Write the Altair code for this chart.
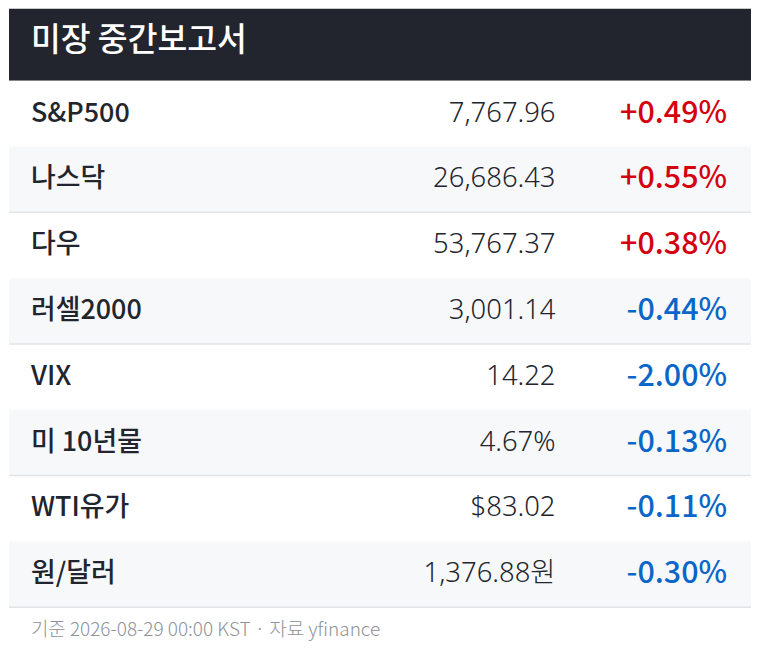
import altair as alt
import pandas as pd

title_text = ["미장 중간보고서"]
names = ["S&P500", "나스닥", "다우", "러셀2000", "VIX", "미 10년물", "WTI유가", "원/달러"]
values = ["7,767.96", "26,686.43", "53,767.37", "3,001.14", "14.22", "4.67%", "$83.02", "1,376.88원"]
changes = [0.49, 0.55, 0.38, -0.44, -2.00, -0.13, -0.11, -0.30]
footer_text = ["기준 2026-08-29 00:00 KST · 자료 yfinance"]

W, H = 744, 636
KR = "Noto Sans CJK KR"
KR_MED = "Noto Sans CJK KR Medium, Noto Sans CJK KR"

df = pd.DataFrame({
    "idx": list(range(len(names))),
    "name": names,
    "value": values,
    "change": changes,
})
df["label"] = df["change"].map(lambda v: f"{v:+.2f}%")
df["alt"] = df["idx"] % 2

yscale = alt.Scale(range=[72, 600], paddingInner=0, paddingOuter=0)
Y = alt.Y("idx:O", scale=yscale, axis=None)

base = alt.Chart(df)

rows = base.mark_rect().encode(
    x=alt.value(0), x2=alt.value(W), y=Y,
    fill=alt.condition("datum.alt == 1", alt.value("#f7f8fa"), alt.value("#ffffff")),
)
seps = base.transform_filter("datum.alt == 1").mark_rule(stroke="#e2e4e8", strokeWidth=1.5).encode(
    x=alt.value(0), x2=alt.value(W),
    y=alt.Y("idx:O", scale=yscale, axis=None, bandPosition=1),
)
name_t = base.mark_text(align="left", baseline="middle", font=KR_MED, fontSize=27,
                        color="#22252d").encode(
    x=alt.value(22), y=Y, text="name:N")
val_t = base.mark_text(align="right", baseline="middle", font="Noto Sans, Noto Sans CJK KR", fontSize=27.5,
                       fontWeight=300, color="#22252d").encode(
    x=alt.value(548), y=Y, text="value:N")
chg_t = base.mark_text(align="right", baseline="middle", font=KR_MED, fontSize=30.5).encode(
    x=alt.value(720), y=Y, text="label:N",
    color=alt.condition("datum.change > 0", alt.value("#d40010"), alt.value("#0a66c8")),
)

hdr_df = pd.DataFrame({"t": title_text})
header = alt.Chart(hdr_df).mark_rect(fill="#22252d").encode(
    x=alt.value(0), x2=alt.value(W), y=alt.value(0), y2=alt.value(72))
title_t = alt.Chart(hdr_df).mark_text(align="left", baseline="middle", font=KR_MED, fontSize=32.5,
                                      color="#ffffff").encode(
    x=alt.value(22), y=alt.value(32), text="t:N")

foot_df = pd.DataFrame({"t": footer_text})
foot_t = alt.Chart(foot_df).mark_text(align="left", baseline="middle", font=KR, fontSize=19,
                                      fontWeight=300, color="#8e9299").encode(
    x=alt.value(22), y=alt.value(623), text="t:N")

chart = alt.layer(header, title_t, rows, seps, name_t, val_t, chg_t, foot_t).properties(
    width=W, height=H, padding=0, background="#ffffff"
).configure_view(stroke=None)

chart.save("out.html", embed_options={"renderer": "svg", "actions": False})
